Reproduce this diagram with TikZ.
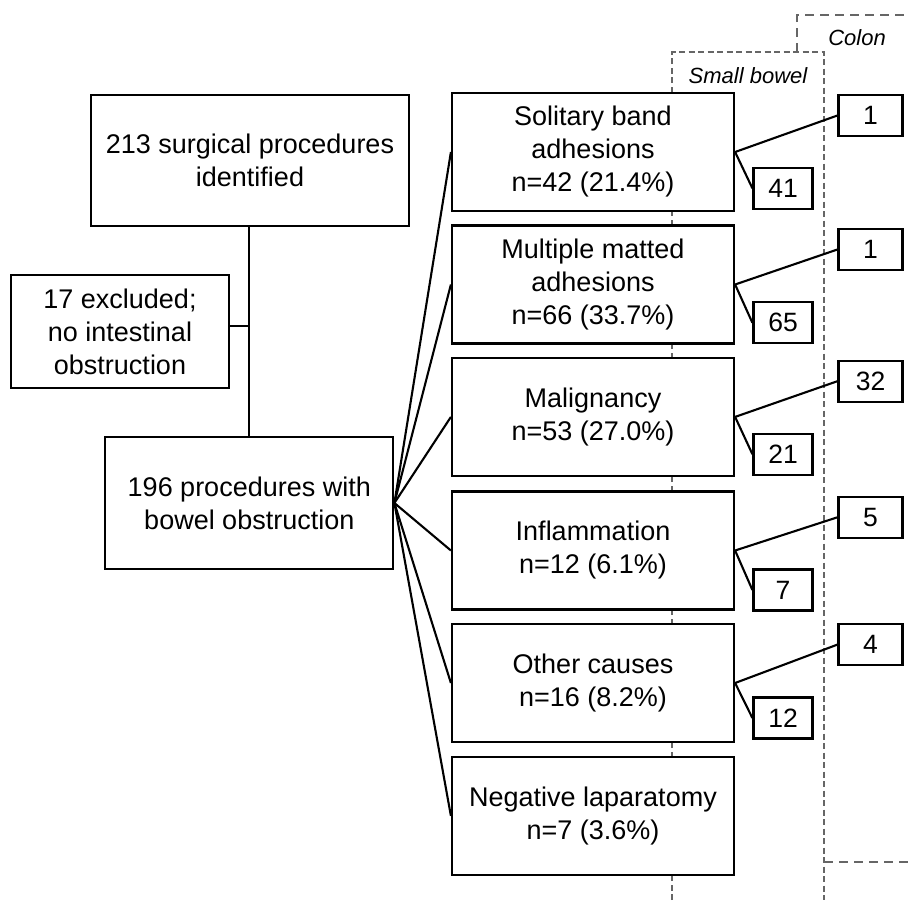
\documentclass[tikz,border=0pt]{standalone}
\usepackage{fontspec}
\setmainfont{Liberation Sans}
\begin{document}
\begin{tikzpicture}[x=1pt,y=-1pt,
  box/.style={draw=black, line width=2.2pt, fill=white, inner sep=0pt, align=center,
    font=\fontsize{27}{33}\selectfont},
  causebox/.style={box, minimum width=282pt, minimum height=118pt},
  colonbox/.style={draw=black, line width=2.2pt, fill=white, inner sep=0pt,
    minimum width=64pt, minimum height=41pt, font=\fontsize{26.5}{30}\selectfont},
  sbbox/.style={colonbox, minimum width=59pt},
  link/.style={draw=black, line width=2.1pt},
  sbline/.style={draw=black!60, line width=1.5pt, dash pattern=on 6pt off 3.5pt},
  colonline/.style={draw=black!60, line width=1.5pt, dash pattern=on 9pt off 6pt},
  lbl/.style={inner sep=0pt, font=\itshape\fontsize{22}{26}\selectfont}]
\useasboundingbox (0,0) rectangle (909,900);

% regions
\coordinate (sbBL) at (672,900);
\coordinate (sbTL) at (672,52);
\coordinate (sbTR) at (824,52);
\coordinate (sbBR) at (824,900);
\coordinate (coA) at (797,52);
\coordinate (coB) at (797,15);
\coordinate (coC) at (912,15);
\coordinate (coD) at (824,862);
\coordinate (coE) at (912,862);
\draw[sbline] (sbBL) -- (sbTL) -- (sbTR) -- (sbBR);
\draw[colonline] (coA) -- (coB) -- (coC);
\draw[colonline] (coD) -- (coE);
\node[lbl] (sblabel) at (748,76) {Small bowel};
\node[lbl] (colonlabel) at (857,38) {Colon};

% left column
\node[box, minimum width=318pt, minimum height=131pt] (top) at (250,160.5)
  {213 surgical procedures\\identified};
\node[box, minimum width=218pt, minimum height=113pt] (excl) at (120,331.5)
  {17 excluded;\\no intestinal\\obstruction};
\node[box, minimum width=288pt, minimum height=132pt] (mid) at (249.3,503)
  {196 procedures with\\bowel obstruction};
\draw[link] (top.south -| mid.north) -- (mid.north);
\coordinate (junc) at (249.3,326);
\draw[link] (excl.east |- junc) -- (junc);

% cause boxes
\node[causebox] (c1) at (593,152)   {Solitary band\\adhesions\\n=42 (21.4\%)};
\node[causebox] (c2) at (593,284.5) {Multiple matted\\adhesions\\n=66 (33.7\%)};
\node[causebox] (c3) at (593,416.9) {Malignancy\\n=53 (27.0\%)};
\node[causebox] (c4) at (593,550.5) {Inflammation\\n=12 (6.1\%)};
\node[causebox] (c5) at (593,683)   {Other causes\\n=16 (8.2\%)};
\node[causebox] (c6) at (593,815.9) {Negative laparatomy\\n=7 (3.6\%)};

\foreach \c in {c1,c2,c3,c4,c5,c6}
  \draw[link] (mid.east) -- (\c.west);

% number boxes
\node[colonbox] (k1) at (870.5,115.5) {1};
\node[sbbox]    (s1) at (783,188.3) {41};
\node[colonbox] (k2) at (870.5,249.5) {1};
\node[sbbox]    (s2) at (783,322.8) {65};
\node[colonbox] (k3) at (870.5,381.2) {32};
\node[sbbox]    (s3) at (783,454.2) {21};
\node[colonbox] (k4) at (870.5,517.3) {5};
\node[sbbox]    (s4) at (783,590) {7};
\node[colonbox] (k5) at (870.5,644.6) {4};
\node[sbbox]    (s5) at (783,718) {12};

\foreach \i in {1,...,5}{
  \draw[link] (c\i.east) -- (k\i.west);
  \draw[link] (c\i.east) -- (s\i.west);
}
\end{tikzpicture}
\end{document}
